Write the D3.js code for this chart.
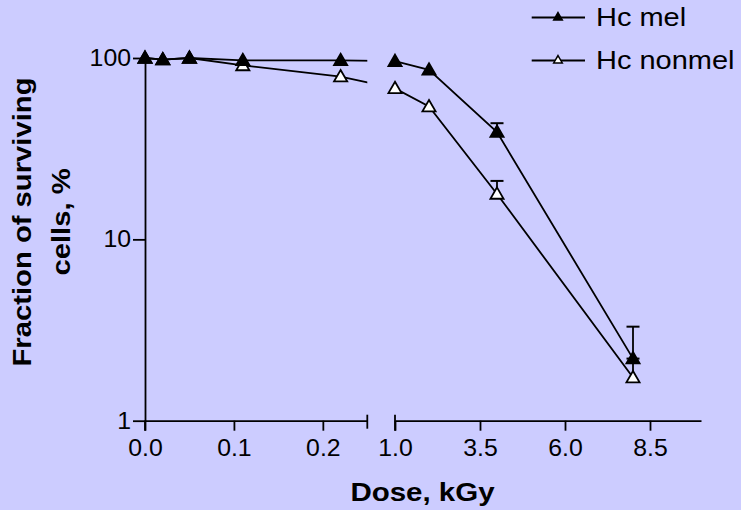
<!DOCTYPE html>
<html>
<head>
<meta charset="utf-8">
<script src="https://cdn.jsdelivr.net/npm/d3@7"></script>
<style>
  html, body { margin: 0; padding: 0; background: #ccccff; }
  svg { display: block; }
  text { font-family: "Liberation Sans", Arial, sans-serif; fill: #000; }
</style>
</head>
<body>
<svg id="chart" width="741" height="510"></svg>
<script>
// ---- data ----
const doses = [0, 0.02, 0.05, 0.11, 0.22, 1.0, 2.0, 4.0, 8.0];
const melValues = [100, 98, 100, 97, 97, 96, 86, 39, 2.2];
const nonmelValues = [100, 98, 100, 91, 79, 68, 54, 17.8, 1.73];
const melErrTop = [null, null, null, null, null, null, null, 43.7, 3.3];
const nonmelErrTop = [null, null, null, null, null, null, null, 21, 2.2];
const leftTicks = [0, 0.1, 0.2];
const rightTicks = [1.0, 3.5, 6.0, 8.5];
const yTicks = [1, 10, 100];
const seriesNames = ["Hc mel", "Hc nonmel"];

// ---- layout ----
const svg = d3.select("#chart");
const xLeft = d3.scaleLinear().domain([0, 0.25]).range([145, 367.3]);
const xRight = d3.scaleLinear().domain([1, 10]).range([395, 701]);
const y = d3.scaleLog().domain([1, 100]).range([420.7, 58]);
const xPos = d => d < 0.5 ? xLeft(d) : xRight(d);
const axisY = y(1);

svg.append("rect").attr("width", 741).attr("height", 510).attr("fill", "#ccccff");

// horizontal widening of glyphs (reference text is slightly wider than Arial)
function stretch(k) {
  return sel => sel.each(function() {
    const t = d3.select(this);
    const x = +(t.attr("x") || 0);
    t.attr("x", x / k).attr("transform", `scale(${k},1)`);
  });
}

// clip for broken axis lines
const defs = svg.append("defs");
const cp = defs.append("clipPath").attr("id", "segs");
cp.append("rect").attr("x", xLeft(0) - 2).attr("y", 0).attr("width", xLeft(0.25) - xLeft(0) + 2).attr("height", 510);
cp.append("rect").attr("x", xRight(1)).attr("y", 0).attr("width", xRight(10) - xRight(1) + 2).attr("height", 510);

// ---- axes ----
function styleAxis(g) {
  g.selectAll("path.domain").attr("stroke", "#000").attr("stroke-width", 1.8);
  g.selectAll(".tick line").attr("stroke", "#000").attr("stroke-width", 1.8);
  g.selectAll(".tick text").attr("font-size", 23).attr("font-family", "Liberation Sans, Arial, sans-serif").attr("fill", "#000");
}

const gxl = svg.append("g").attr("transform", `translate(0,${axisY})`)
  .call(d3.axisBottom(xLeft).tickValues(leftTicks).tickFormat(d3.format(".1f")).tickSize(10).tickSizeOuter(0).tickPadding(9));
styleAxis(gxl);
gxl.selectAll(".tick text").call(stretch(1.08));

const gxr = svg.append("g").attr("transform", `translate(0,${axisY})`)
  .call(d3.axisBottom(xRight).tickValues(rightTicks).tickFormat(d3.format(".1f")).tickSize(10).tickSizeOuter(0).tickPadding(9));
styleAxis(gxr);
gxr.selectAll(".tick text").call(stretch(1.08));

// break end ticks
svg.append("line").attr("x1", xLeft(0.25)).attr("x2", xLeft(0.25)).attr("y1", axisY - 6).attr("y2", axisY + 8)
  .attr("stroke", "#000").attr("stroke-width", 1.8);
svg.append("line").attr("x1", xRight(1)).attr("x2", xRight(1)).attr("y1", axisY - 6).attr("y2", axisY + 10)
  .attr("stroke", "#000").attr("stroke-width", 1.8);

const gy = svg.append("g").attr("transform", `translate(${xLeft(0)},0)`)
  .call(d3.axisLeft(y).tickValues(yTicks).tickFormat(d3.format("d")).tickSize(12).tickSizeOuter(0).tickPadding(2));
styleAxis(gy);
gy.selectAll(".tick text").call(stretch(1.08));
svg.append("line").attr("x1", xLeft(0)).attr("x2", xLeft(0)).attr("y1", axisY).attr("y2", axisY + 10)
  .attr("stroke", "#000").attr("stroke-width", 1.8);

// axis titles
svg.append("text").attr("x", 422.5).attr("y", 501).attr("text-anchor", "middle")
  .attr("font-size", 25).attr("font-weight", "bold").text("Dose, kGy").call(stretch(1.18));

const yt = svg.append("g").attr("transform", "translate(31,222) rotate(-90)");
yt.append("text").attr("x", 0).attr("y", 0).attr("text-anchor", "middle")
  .attr("font-size", 25).attr("font-weight", "bold").text("Fraction of surviving").call(stretch(1.17));
yt.append("text").attr("x", 0).attr("y", 39).attr("text-anchor", "middle")
  .attr("font-size", 25).attr("font-weight", "bold").text("cells, %").call(stretch(1.17));

// ---- series ----
const series = [
  { name: seriesNames[0], values: melValues, err: melErrTop, fill: "#000" },
  { name: seriesNames[1], values: nonmelValues, err: nonmelErrTop, fill: "#fff" }
];

const line = d3.line().x((d, i) => xPos(doses[i])).y(d => y(d));
const tri = d3.symbol().type(d3.symbolTriangle).size(75);
const triSmall = d3.symbol().type(d3.symbolTriangle).size(32);

series.forEach(s => {
  svg.append("path").attr("d", line(s.values)).attr("fill", "none")
    .attr("stroke", "#000").attr("stroke-width", 1.8).attr("clip-path", "url(#segs)");
});

// error bars (upper)
series.forEach(s => {
  s.err.forEach((e, i) => {
    if (e == null) return;
    const x = xPos(doses[i]);
    svg.append("line").attr("x1", x).attr("x2", x).attr("y1", y(s.values[i])).attr("y2", y(e))
      .attr("stroke", "#000").attr("stroke-width", 1.8);
    svg.append("line").attr("x1", x - 6.5).attr("x2", x + 6.5).attr("y1", y(e)).attr("y2", y(e))
      .attr("stroke", "#000").attr("stroke-width", 2);
  });
});

// markers: nonmel first, mel on top
[series[1], series[0]].forEach(s => {
  svg.append("g").selectAll("path").data(s.values).join("path")
    .attr("d", tri)
    .attr("transform", (d, i) => `translate(${xPos(doses[i])},${y(d) + 1})`)
    .attr("fill", s.fill).attr("stroke", "#000").attr("stroke-width", 1.8);
});

// ---- legend ----
const legendRows = [17.5, 60.5];
series.forEach((s, i) => {
  const ly = legendRows[i];
  svg.append("line").attr("x1", 531.7).attr("x2", 585).attr("y1", ly).attr("y2", ly)
    .attr("stroke", "#000").attr("stroke-width", 1.8);
  svg.append("path").attr("d", triSmall).attr("transform", `translate(558,${ly})`)
    .attr("fill", s.fill).attr("stroke", "#000").attr("stroke-width", 1.5);
  svg.append("text").attr("x", 596).attr("y", ly + 9).attr("font-size", 25).text(s.name).call(stretch(1.16));
});
</script>
</body>
</html>
